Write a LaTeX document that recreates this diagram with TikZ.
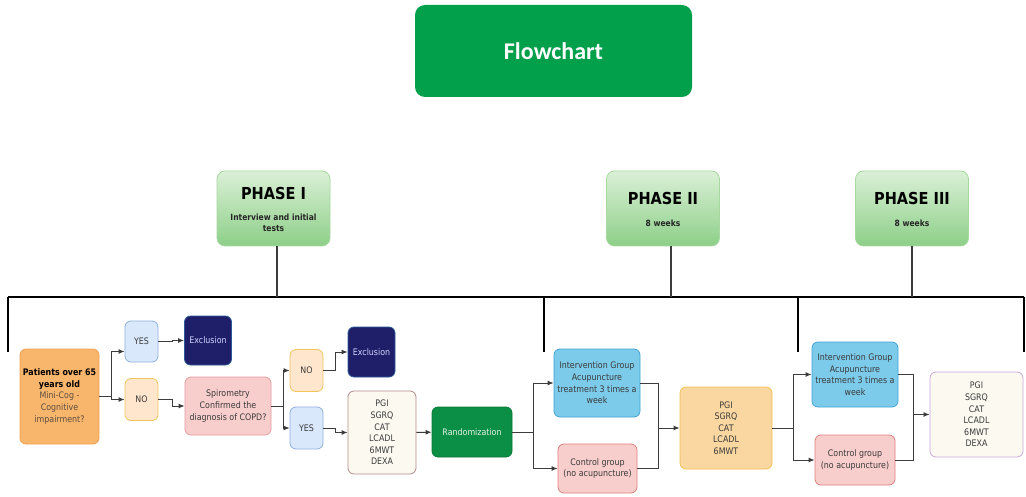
\documentclass[tikz,border=0pt]{standalone}
\usepackage{fontspec}
\setmainfont{DejaVu Sans}[FakeStretch=0.88]
\newfontfamily\titlefont{Carlito}
\usetikzlibrary{arrows.meta,calc}

\definecolor{txt}{HTML}{3A3A3A}
\definecolor{lnk}{HTML}{3C3C3C}
\definecolor{titlegreen}{HTML}{03A04B}
\definecolor{phtop}{HTML}{DAF0D6}
\definecolor{phbot}{HTML}{8DCF88}
\definecolor{phb}{HTML}{A6D8A0}
\definecolor{patfill}{HTML}{F8B56C}
\definecolor{patdraw}{HTML}{F2A24E}
\definecolor{patgrey}{HTML}{5C4E40}
\definecolor{yesfill}{HTML}{DAE8FC}
\definecolor{yesdraw}{HTML}{8DB1DF}
\definecolor{nofill}{HTML}{FFE6CC}
\definecolor{nodraw}{HTML}{F2C45A}
\definecolor{exfill}{HTML}{1E1F68}
\definecolor{exdraw}{HTML}{2A5A9A}
\definecolor{extext}{HTML}{D4D4FF}
\definecolor{pinkfill}{HTML}{F8CECC}
\definecolor{pinkdraw}{HTML}{E39A9A}
\definecolor{creamfill}{HTML}{FBF9F0}
\definecolor{creamdraw}{HTML}{B48C8C}
\definecolor{lavdraw}{HTML}{C9A8DA}
\definecolor{randfill}{HTML}{0B8E45}
\definecolor{randdraw}{HTML}{0A7A3A}
\definecolor{randtext}{HTML}{E6F5E6}
\definecolor{intfill}{HTML}{7DCBEA}
\definecolor{intdraw}{HTML}{3FA2D6}
\definecolor{ctldraw}{HTML}{E07F7F}
\definecolor{scorefill}{HTML}{FAD7A0}
\definecolor{scoredraw}{HTML}{F0C050}

\begin{document}
\begin{tikzpicture}[x=1pt,y=-1pt,
  box/.style={draw, rounded corners=6pt, line width=0.8pt, align=center,
    inner sep=0pt, font=\fontsize{9}{11.6}\selectfont, text=txt},
  yesbox/.style={box, fill=yesfill, draw=yesdraw, minimum width=33pt, minimum height=41pt},
  nobox/.style={box, fill=nofill, draw=nodraw, minimum width=33pt, minimum height=42pt},
  exclbox/.style={box, fill=exfill, draw=exdraw, text=extext, minimum width=47pt, minimum height=49pt},
  phase/.style={draw=phb, rounded corners=8pt, line width=0.8pt,
    top color=phtop, bottom color=phbot, minimum width=113pt, minimum height=75pt},
  phasehead/.style={font=\fontsize{16.5}{18}\selectfont\bfseries, text=black, inner sep=0pt},
  phasesub/.style={font=\fontsize{8.6}{11.5}\selectfont\bfseries, text=black!85, align=center, inner sep=0pt},
  conn/.style={draw=lnk, line width=1pt},
  arr/.style={conn, -{Latex[length=6pt,width=5pt]}},
  struct/.style={draw=black, line width=2pt},
  stem/.style={draw=lnk, line width=1.6pt}]

\useasboundingbox (0,0) rectangle (1026,497);

% title
\node[fill=titlegreen, rounded corners=10pt, minimum width=277pt, minimum height=92pt,
      text=white, font=\titlefont\fontsize{24}{28}\selectfont\bfseries] (title) at (553.5,51) {Flowchart};

% phase headers
\node[phase] (ph1) at (273.5,208.5) {};
\node[phasehead] (ph1t) at (273.5,193) {PHASE I};
\node[phasesub] (ph1s) at (273.5,223) {Interview and initial\\tests};
\node[phase] (ph2) at (663,208.5) {};
\node[phasehead] (ph2t) at (663,198) {PHASE II};
\node[phasesub] (ph2s) at (663,223) {8 weeks};
\node[phase] (ph3) at (912,208.5) {};
\node[phasehead] (ph3t) at (912,198) {PHASE III};
\node[phasesub] (ph3s) at (912,223) {8 weeks};

% timeline bar and its drops
\coordinate (barL) at (8,297);
\coordinate (barR) at (1024,297);
\coordinate (b2) at (544,297);
\coordinate (b3) at (798,297);
\coordinate (d1) at (8,352);
\coordinate (d2) at (544,352);
\coordinate (d3) at (798,352);
\coordinate (d4) at (1024,352);
\draw[struct] (barL) -- (barR);
\draw[struct] (barL) -- (d1);
\draw[struct] (b2) -- (d2);
\draw[struct] (b3) -- (d3);
\draw[struct] (barR) -- (d4);
\draw[stem] ([xshift=3.5pt]ph1.south) -- ([xshift=3.5pt]ph1.south |- barL);
\draw[stem] ([xshift=8pt]ph2.south) -- ([xshift=8pt]ph2.south |- barL);
\draw[stem] (ph3.south) -- (ph3.south |- barL);

% phase I
\node[box, fill=patfill, draw=patdraw, text=black, minimum width=79pt, minimum height=95pt] (pat) at (59.5,396.5)
  {\textbf{Patients over 65}\\\textbf{years old}\\\textcolor{patgrey}{Mini-Cog -}\\\textcolor{patgrey}{Cognitive}\\\textcolor{patgrey}{impairment?}};
\node[yesbox] (yes1) at (141.5,341.5) {YES};
\node[exclbox] (exc1) at (208,340.5) {Exclusion};
\node[nobox] (no1) at (141.5,399.5) {NO};
\node[box, fill=pinkfill, draw=pinkdraw, minimum width=86pt, minimum height=58pt] (spiro) at (228,406)
  {Spirometry\\Confirmed the\\diagnosis of COPD?};
\node[nobox] (no2) at (306.5,370.5) {NO};
\node[exclbox, minimum height=50pt] (exc2) at (371.5,352) {Exclusion};
\node[yesbox, minimum height=42pt] (yes2) at (306.5,428) {YES};
\node[box, fill=creamfill, draw=creamdraw, minimum width=68pt, minimum height=83pt] (pgi1) at (382,432.5)
  {PGI\\SGRQ\\CAT\\LCADL\\6MWT\\DEXA};
\node[box, fill=randfill, draw=randdraw, text=randtext, minimum width=80pt, minimum height=50pt] (rand) at (472,432)
  {Randomization};

% phase II
\node[box, fill=intfill, draw=intdraw, minimum width=86pt, minimum height=68pt] (int1) at (597,383)
  {Intervention Group\\Acupuncture\\treatment 3 times a\\week};
\node[box, fill=pinkfill, draw=ctldraw, minimum width=79pt, minimum height=49pt] (ctl1) at (597.5,468.5)
  {Control group\\(no acupuncture)};
\node[box, fill=scorefill, draw=scoredraw, minimum width=92pt, minimum height=82pt] (pgi2) at (726,428)
  {PGI\\SGRQ\\CAT\\LCADL\\6MWT};

% phase III
\node[box, fill=intfill, draw=intdraw, minimum width=86pt, minimum height=65pt] (int2) at (855,374.5)
  {Intervention Group\\Acupuncture\\treatment 3 times a\\week};
\node[box, fill=pinkfill, draw=ctldraw, minimum width=80pt, minimum height=50pt] (ctl2) at (855,460)
  {Control group\\(no acupuncture)};
\node[box, fill=creamfill, draw=lavdraw, minimum width=93pt, minimum height=85pt] (pgi3) at (976.5,414.5)
  {PGI\\SGRQ\\CAT\\LCADL\\6MWT\\DEXA};

% connectors
\draw[arr] (pat.east) -- ++(12.5,0) |- ([yshift=-10pt]yes1.west);
\draw[arr] (pat.east) -- ++(12.5,0) |- (no1.west);
\draw[arr] (yes1.east) -- ++(14,0) |- (exc1.west);
\draw[arr] (no1.east) -- ++(14,0) |- (spiro.west);
\draw[arr] (spiro.east) -- ++(12,0) |- (no2.west);
\draw[arr] (spiro.east) -- ++(12,0) |- (yes2.west);
\draw[arr] (no2.east) -- ++(12,0) |- (exc2.west);
\draw[arr] (yes2.east) -- ++(12,0) |- (pgi1.west);
\draw[arr] (pgi1) -- (rand);
\draw[arr] (rand.east) -- ++(21,0) |- (int1.west);
\draw[arr] (rand.east) -- ++(21,0) |- (ctl1.west);
\coordinate (m1) at ($(pgi2.west)+(-21,0)$);
\draw[conn] (int1.east) -| (m1);
\draw[conn] (ctl1.east) -| (m1);
\draw[arr] (m1) -- (pgi2.west);
\draw[arr] (pgi2.east) -- ++(21,0) |- (int2.west);
\draw[arr] (pgi2.east) -- ++(21,0) |- (ctl2.west);
\coordinate (m2) at ($(pgi3.west)+(-16,0)$);
\draw[conn] (int2.east) -| (m2);
\draw[conn] (ctl2.east) -| (m2);
\draw[arr] (m2) -- (pgi3.west);
\end{tikzpicture}
\end{document}
